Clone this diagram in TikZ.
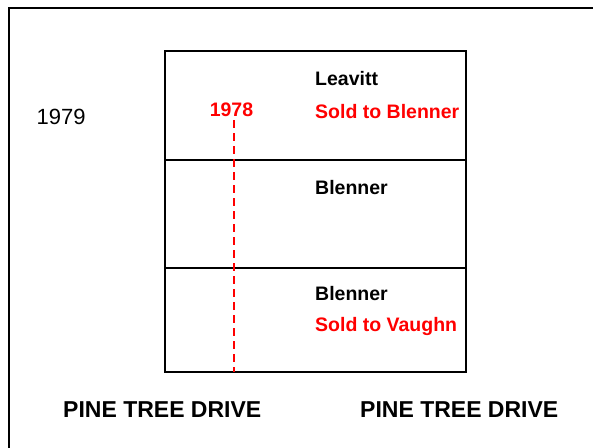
\documentclass[tikz,border=0pt]{standalone}
\usepackage{fontspec}
\setmainfont{Liberation Sans}
\begin{document}
\begin{tikzpicture}[x=1pt,y=-1pt,
  frameline/.style={line width=2.4pt,line cap=rect},
  boxline/.style={line width=2.2pt},
  lbl/.style={inner sep=0pt,anchor=base west,font=\fontsize{19.5}{22}\selectfont\bfseries},
  redlbl/.style={lbl,text={rgb,255:red,255;green,0;blue,0}},
  road/.style={inner sep=0pt,anchor=base west,font=\fontsize{23}{26}\selectfont\bfseries},
  cutline/.style={line width=2.2pt,draw={rgb,255:red,255;green,0;blue,0},dash pattern=on 8pt off 5pt}]
\useasboundingbox (0,0) rectangle (593,447);
% outer frame (only left and top edges visible)
\coordinate (fbl) at (9,450);
\coordinate (ftl) at (9,8);
\coordinate (ftr) at (596,8);
\draw[frameline] (fbl) -- (ftl) -- (ftr);
% parcel box
\coordinate (btl) at (165,51);
\coordinate (bbr) at (466,372);
\coordinate (d1l) at (165,160);
\coordinate (d1r) at (466,160);
\coordinate (d2l) at (165,268);
\coordinate (d2r) at (466,268);
\draw[boxline] (btl) rectangle (bbr);
\draw[boxline] (d1l) -- (d1r);
\draw[boxline] (d2l) -- (d2r);
% dashed 1978 line
\coordinate (dtop) at (234,120);
\coordinate (dbot) at (234,372);
\draw[cutline] (dtop) -- (dbot);
% labels
\node[inner sep=0pt,anchor=base west,font=\fontsize{22}{25}\selectfont] (y1979) at (36.5,124) {1979};
\node[redlbl,anchor=base] (y1978) at (231.5,116) {1978};
\node[lbl] (leavitt) at (315,85) {Leavitt};
\node[redlbl] (soldb) at (315,118) {Sold to Blenner};
\node[lbl] (blen1) at (315,194) {Blenner};
\node[lbl] (blen2) at (315,300) {Blenner};
\node[redlbl] (soldv) at (315,331.5) {Sold to Vaughn};
\node[road] (road1) at (63,417) {PINE TREE DRIVE};
\node[road] (road2) at (360,417) {PINE TREE DRIVE};
\end{tikzpicture}
\end{document}
